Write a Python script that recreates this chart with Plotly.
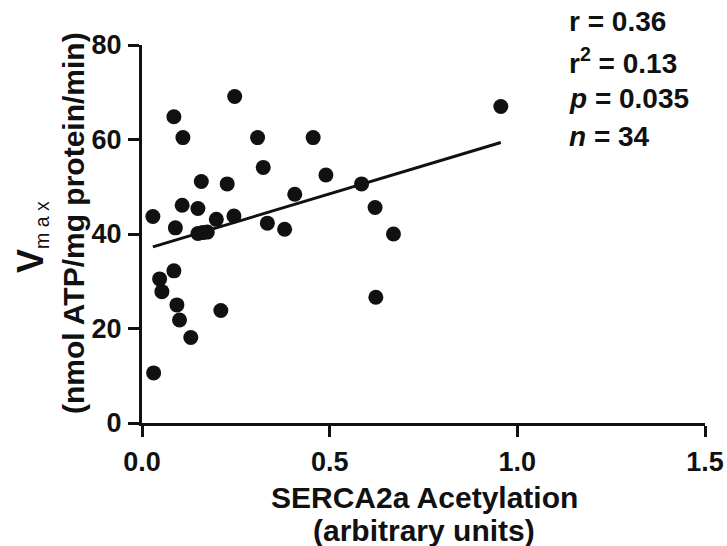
import numpy as np
import plotly.graph_objects as go

# Data
acetylation = [0.247, 0.085, 0.109, 0.308, 0.323, 0.158, 0.227, 0.407, 0.107, 0.149,
               0.029, 0.198, 0.245, 0.089, 0.149, 0.174, 0.334, 0.380, 0.456, 0.490,
               0.585, 0.621, 0.670, 0.956, 0.085, 0.047, 0.053, 0.093, 0.100, 0.130,
               0.210, 0.031, 0.623, 0.162]
vmax = [69.1, 64.8, 60.4, 60.4, 54.1, 51.1, 50.6, 48.4, 46.1, 45.4,
        43.7, 43.1, 43.8, 41.3, 40.1, 40.4, 42.3, 41.0, 60.4, 52.5,
        50.6, 45.6, 40.0, 67.0, 32.2, 30.5, 27.8, 25.0, 21.8, 18.1,
        23.8, 10.6, 26.6, 40.3]

x_ticks = [0.0, 0.5, 1.0, 1.5]
x_ticklabels = ["0.0", "0.5", "1.0", "1.5"]
y_ticks = [0, 20, 40, 60, 80]
y_ticklabels = ["0", "20", "40", "60", "80"]

stats_lines = ["r = 0.36", "r<sup>2</sup> = 0.13", "<i>p</i> = 0.035", "<i>n</i> = 34"]

xa = np.array(acetylation)
ya = np.array(vmax)
slope, intercept = np.polyfit(xa, ya, 1)
fit_x = np.array([xa.min(), xa.max()])
fit_y = slope * fit_x + intercept

FONT = "Liberation Sans, Arial, sans-serif"
INK = "#111111"

L, R, T, B = 142, 22, 45, 123
W, H = 727, 546
PW, PH = W - L - R, H - T - B


def px_to_paper_x(px):
    return (px - L) / PW


def px_to_paper_y(py):
    return (H - B - py) / PH


fig = go.Figure()
fig.add_trace(go.Scatter(x=fit_x, y=fit_y, mode="lines",
                         line=dict(color=INK, width=3), showlegend=False,
                         cliponaxis=False))
fig.add_trace(go.Scatter(x=acetylation, y=vmax, mode="markers",
                         marker=dict(color=INK, size=15, line=dict(width=0)),
                         showlegend=False, cliponaxis=False))

fig.update_layout(
    width=W, height=H,
    margin=dict(l=L, r=R, t=T, b=B, autoexpand=False),
    plot_bgcolor="white", paper_bgcolor="white",
    font=dict(family=FONT, color=INK),
)
axis_common = dict(showline=True, linecolor=INK, linewidth=3, ticks="outside",
                   ticklen=11, tickwidth=3, tickcolor=INK, showgrid=False,
                   zeroline=False, automargin=False,
                   tickfont=dict(size=27, family=FONT, color=INK))
fig.update_xaxes(range=[0, 1.5], tickvals=x_ticks,
                 ticktext=["<b>%s</b>" % t for t in x_ticklabels], ticklabelstandoff=2,
                 **axis_common)
fig.update_yaxes(range=[0, 80], tickvals=y_ticks,
                 ticktext=["<b>%s</b>" % t for t in y_ticklabels], ticklabelstandoff=1,
                 **axis_common)

# axis titles
fig.add_annotation(text="<b>SERCA2a Acetylation</b>", xref="paper", yref="paper",
                   x=px_to_paper_x(424), y=px_to_paper_y(497), showarrow=False,
                   font=dict(size=30, family=FONT), xanchor="center", yanchor="middle")
fig.add_annotation(text="<b>(arbitrary units)</b>", xref="paper", yref="paper",
                   x=px_to_paper_x(424), y=px_to_paper_y(530), showarrow=False,
                   font=dict(size=30, family=FONT), xanchor="center", yanchor="middle")
fig.add_annotation(text="<b>V</b><span style='font-size:28px'><sub>m a x</sub></span>",
                   xref="paper", yref="paper",
                   x=px_to_paper_x(31), y=px_to_paper_y(237), showarrow=False, textangle=-90,
                   font=dict(size=36, family=FONT), xanchor="center", yanchor="middle")
fig.add_annotation(text="<b>(nmol ATP/mg protein/min)</b>", xref="paper", yref="paper",
                   x=px_to_paper_x(73), y=px_to_paper_y(223), showarrow=False, textangle=-90,
                   font=dict(size=30, family=FONT), xanchor="center", yanchor="middle")

# stats text
stat_y = [22, 61, 98, 136]
for s, yy in zip(stats_lines, stat_y):
    fig.add_annotation(text="<b>%s</b>" % s, xref="paper", yref="paper",
                       x=px_to_paper_x(567), y=px_to_paper_y(yy),
                       showarrow=False, xanchor="left", yanchor="middle",
                       font=dict(size=28, family=FONT))

fig.write_html("out.html", config={"displayModeBar": False},
               post_script="document.body.style.margin='0px';document.body.style.overflow='hidden';")
